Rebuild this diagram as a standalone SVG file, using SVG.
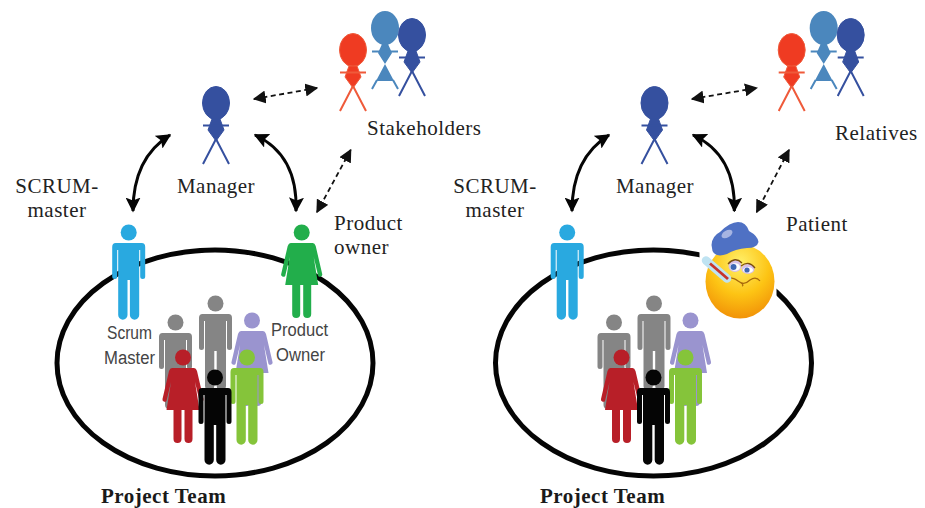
<svg xmlns="http://www.w3.org/2000/svg" width="925" height="508" viewBox="0 0 925 508">
<style>
.lbl{font-family:"Liberation Serif","Times New Roman",serif;font-size:21px;fill:#222;letter-spacing:.5px}
.bold{font-family:"Liberation Serif","Times New Roman",serif;font-size:21px;font-weight:bold;fill:#1a1a1a;letter-spacing:.5px}
.sans{font-family:"Liberation Sans",Arial,sans-serif;font-size:18px;fill:#444}
.mid{text-anchor:middle}
.team{fill:none;stroke:#050505;stroke-width:5}
.solid{fill:none;stroke:#050505;stroke-width:3;marker-start:url(#ah);marker-end:url(#ah)}
.dash{fill:none;stroke:#111;stroke-width:1.8;stroke-dasharray:5 3.500;marker-start:url(#ad);marker-end:url(#ad)}
.lim{fill:none;stroke-width:2}
</style>
<defs>
<marker id="ah" viewBox="0 0 10 10" refX="9" refY="5" markerUnits="userSpaceOnUse" markerWidth="15" markerHeight="15" orient="auto-start-reverse"><path d="M0,0L10,5L0,10L2,5Z" fill="#050505"/></marker>
<marker id="ad" viewBox="0 0 10 10" refX="9" refY="5" markerUnits="userSpaceOnUse" markerWidth="13" markerHeight="13" orient="auto-start-reverse"><path d="M0,0L10,5L0,10Z" fill="#111"/></marker>
<radialGradient id="face" cx=".5" cy=".25" r=".85"><stop offset="0" stop-color="#fff06a"/><stop offset=".5" stop-color="#fdc414"/><stop offset="1" stop-color="#ee8404"/></radialGradient>
<g id="man">
<circle cx="0" cy="8.500" r="8"/>
<path d="M-13,19H13Q16.500,19 16.500,23V52.500A2.500,2.500 0 0 1 11.500,52.500V26H10.500V91A4.500,4.500 0 0 1 1.200,91V56H-1.200V91A4.500,4.500 0 0 1 -10.500,91V26H-11.500V52.500A2.500,2.500 0 0 1 -16.500,52.500V23Q-16.500,19 -13,19Z"/>
</g>
<g id="woman">
<circle cx="0" cy="8.500" r="8"/>
<path d="M-11,19H11Q13,19 14,22L20.500,50A2.300,2.300 0 0 1 16.500,52L12,33L16.500,61H9.500V90A4,4 0 0 1 1.500,90V61H-1.500V90A4,4 0 0 1 -9.500,90V61H-16.500L-12,33L-16.500,52A2.300,2.300 0 0 1 -20.500,50L-14,22Q-13,19 -11,19Z"/>
</g>
<g id="stickA">
<ellipse cx="0" cy="0" rx="13.500" ry="16.500"/>
<path d="M-4,16H4L8,27L0,38L-8,27Z"/>
<path class="lim" d="M-13,22.500H13M0,36L-13,61M0,36L13,61"/>
</g>
<g id="stickB">
<ellipse cx="0" cy="0" rx="14" ry="17"/>
<path d="M-3,16H3L7,25L0,36L-7,25ZM0,36L9,53H-9Z"/>
<path class="lim" d="M-13,23.500H13M-8,52L-13,61M8,52L13,61"/>
</g>
<g id="team">
<ellipse class="team" cx="215" cy="363" rx="158" ry="113"/>
<use href="#man" x="175.500" y="314" fill="#858585"/>
<use href="#man" x="215.500" y="295" fill="#858585"/>
<use href="#woman" x="252" y="312" fill="#9a94cf"/>
<use href="#man" x="247" y="349" fill="#85c43a"/>
<use href="#woman" x="183" y="349" fill="#b81f28"/>
<use href="#man" x="215" y="369" fill="#050505"/>
<use href="#man" x="128.700" y="224" fill="#29a9e0"/>
</g>
<g id="stakeholders">
<use href="#stickB" x="385" y="28" fill="#4b87bd" stroke="#4b87bd" stroke-width="0"/>
<use href="#stickA" x="412" y="35" fill="#35509f" stroke="#35509f"/>
<use href="#stickA" x="353" y="50" fill="#ef3b22" stroke="#ef5a3a"/>
</g>
</defs>

<g id="connectors">
<path class="solid" d="M170,135Q133,158 133,211"/>
<path class="solid" d="M255,135Q298,155 296,211"/>
<path class="dash" d="M254,99L317,88"/>
<path class="dash" d="M350.700,150L317,212"/>
<path class="solid" d="M609,135Q572,158 572,211"/>
<path class="solid" d="M693,135Q736,155 734.300,211"/>
<path class="dash" d="M692,99L756.700,88"/>
<path class="dash" d="M789,150L756.700,212"/>
</g>

<g id="left-team-group"><use href="#team"/></g>
<g id="left-product-owner"><use href="#woman" x="301.700" y="224" fill="#22ae4b"/></g>
<g id="left-manager"><use href="#stickA" x="216" y="103" fill="#35509f" stroke="#35509f"/></g>
<g id="left-stakeholders"><use href="#stakeholders"/></g>

<g id="right-team-group"><use href="#team" x="438.500"/></g>
<g id="right-manager"><use href="#stickA" x="654.500" y="103" fill="#35509f" stroke="#35509f"/></g>
<g id="right-relatives"><use href="#stakeholders" x="438.700"/></g>

<g id="patient">
<rect x="699.500" y="222" width="77" height="100" fill="#fff"/>
<ellipse cx="740" cy="281.500" rx="34.500" ry="37" fill="url(#face)"/>
<path d="M711.500,245Q712,236 720,232Q730,222 738,222Q746,222 749,231Q758,236 758.500,242Q757,248 747,248Q735,249 727,254Q716,258 712.500,251Z" fill="#4f71c4"/>
<ellipse cx="727" cy="234" rx="6" ry="3.500" transform="rotate(-30 727 234)" fill="#a6b4e2"/>
<ellipse cx="735" cy="266" rx="6.500" ry="6" fill="#d7c0e8"/><ellipse cx="748" cy="269" rx="6.500" ry="5" fill="#d7c0e8"/>
<ellipse cx="735" cy="267" rx="5" ry="3.800" fill="#fff"/><ellipse cx="748" cy="270" rx="5" ry="3" fill="#fff"/>
<circle cx="733.500" cy="267" r="3" fill="#3f66b5"/><circle cx="747" cy="270" r="2.600" fill="#3f66b5"/>
<path d="M728,264Q735,256 742,263M741,266Q749,260 755,268" fill="none" stroke="#7a4d10" stroke-width="1.300"/>
<path d="M722,279Q732,276 738,281Q744,286 750,280Q756,276 760,281M738,281Q745,285 742,286" fill="none" stroke="#a8690c" stroke-width="1.200"/>
<path d="M706,260.500L727,278.500" stroke="#bfe3f2" stroke-width="8.500" stroke-linecap="round"/>
<path d="M710,263.500L728,279" stroke="#c8332a" stroke-width="2.800"/>
</g>

<g id="labels">
<text class="lbl mid" x="57" y="193">SCRUM-</text>
<text class="lbl mid" x="57" y="217">master</text>
<text class="lbl mid" x="216" y="193">Manager</text>
<text class="lbl" x="367" y="135">Stakeholders</text>
<text class="lbl" x="334" y="230">Product</text>
<text class="lbl" x="334" y="254">owner</text>
<text class="sans" x="107" y="339" textLength="45" lengthAdjust="spacingAndGlyphs">Scrum</text>
<text class="sans" x="104" y="364" textLength="51" lengthAdjust="spacingAndGlyphs">Master</text>
<text class="sans" x="271" y="336" textLength="57" lengthAdjust="spacingAndGlyphs">Product</text>
<text class="sans" x="276" y="361" textLength="49" lengthAdjust="spacingAndGlyphs">Owner</text>
<text class="bold" x="101" y="503">Project Team</text>
<text class="lbl mid" x="495" y="193">SCRUM-</text>
<text class="lbl mid" x="495" y="217">master</text>
<text class="lbl mid" x="655" y="193">Manager</text>
<text class="lbl" x="835" y="140">Relatives</text>
<text class="lbl" x="786" y="231">Patient</text>
<text class="bold" x="540" y="503">Project Team</text>
</g>
</svg>
